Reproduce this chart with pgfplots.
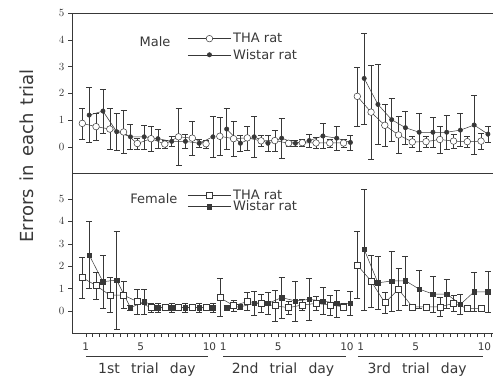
\documentclass[border=0pt]{standalone}
\usepackage{pgfplots}
\pgfplotsset{compat=1.18}
\usepackage{pgfplotstable}
\usepackage{fontspec}
\setmainfont{DejaVu Sans}
\definecolor{ink}{gray}{0.22}

\pgfplotstableread{
x tha thae w we
1 0.88 0.58 1.19 1.03
2 0.76 0.50 1.34 0.82
3 0.67 0.77 0.57 0.70
4 0.56 0.80 0.38 0.48
5 0.13 0.20 0.38 0.45
6 0.31 0.45 0.31 0.35
7 0.11 0.15 0.21 0.20
8 0.38 1.05 0.21 0.25
9 0.33 0.63 0.14 0.15
10 0.12 0.15 0.38 0.77
10.5 nan 0 nan 0
11 0.40 0.72 0.67 0.77
12 0.31 0.65 0.14 0.30
13 0.34 0.45 0.38 0.77
14 0.23 0.20 0.14 0.30
15 0.24 0.40 0.33 0.75
16 0.14 0.12 0.14 0.12
17 0.16 0.12 0.24 0.25
18 0.15 0.20 0.41 0.47
19 0.15 0.15 0.33 0.45
20 0.15 0.15 0.17 0.28
20.5 nan 0 nan 0
21 1.89 1.10 2.56 1.70
22 1.30 1.75 1.59 1.50
23 0.81 0.80 1.02 0.80
24 0.45 0.68 0.72 0.60
25 0.19 0.20 0.55 0.70
26 0.20 0.20 0.55 0.57
27 0.28 0.50 0.55 0.65
28 0.22 0.25 0.63 0.62
29 0.20 0.20 0.82 1.10
30 0.22 0.30 0.48 0.30
}\maledata

\pgfplotstableread{
x tha thae w we
1 1.49 0.90 2.50 1.50
2 1.14 0.60 1.31 1.20
3 0.71 0.78 1.38 2.20
4 0.71 0.60 0.15 0.10
5 0.42 0.55 0.42 0.55
6 0.15 0.20 0.15 0.20
7 0.15 0.10 0.15 0.20
8 0.15 0.10 0.15 0.20
9 0.15 0.10 0.15 0.20
10 0.15 0.10 0.15 0.20
10.5 nan 0 nan 0
11 0.60 0.85 0.15 0.10
12 0.24 0.25 0.19 0.10
13 0.42 0.40 0.34 0.55
14 0.34 0.40 0.34 0.50
15 0.24 0.70 0.60 0.90
16 0.15 0.30 0.45 0.90
17 0.27 0.25 0.52 0.95
18 0.34 0.30 0.45 0.60
19 0.27 0.45 0.34 0.60
20 0.19 0.15 0.34 0.55
20.5 nan 0 nan 0
21 2.05 1.50 2.75 2.70
22 1.34 1.15 1.26 1.20
23 0.37 0.45 1.34 1.35
24 0.97 0.95 1.35 1.10
25 0.19 0.10 0.98 0.85
26 0.19 0.10 0.76 0.80
27 0.19 0.42 0.76 0.65
28 0.34 0.35 0.30 0.45
29 0.12 0.10 0.86 0.85
30 0.12 0.10 0.86 0.90
}\femaledata

\pgfplotsset{
  panel/.style={
    scale only axis, width=421pt, height=160pt,
    xmin=0, xmax=30.62,
    axis line style={ink, line width=0.6pt},
    tick style={ink, line width=0.5pt},
    tick align=outside,
    major tick length=4pt, minor tick length=4pt,
    ytick={0,1,2,3,4,5},
    yticklabel style={text=ink, font=\fontsize{10.5}{12}\selectfont},
    xticklabel style={text=ink, font=\fontsize{10.5}{12}\selectfont, yshift=-2pt},
    unbounded coords=jump,
    clip=false,
    legend cell align=left,
    legend image code/.code={\draw[mark repeat=2, mark phase=2, ##1] plot coordinates {(0pt,0pt) (21.5pt,0pt) (43pt,0pt)};},
  },
  ser/.style={ink, line width=0.5pt,
    error bars/y dir=both, error bars/y explicit,
    error bars/error bar style={ink, line width=0.5pt},
    error bars/error mark options={ink, rotate=90, mark size=3pt, line width=0.5pt}},
}

\begin{document}
\begin{tikzpicture}
\path[use as bounding box] (0,0) rectangle (494pt,377pt);

% Male
\begin{axis}[panel, at={(72pt,204pt)}, anchor=south west,
  ymin=-0.97, ymax=5,
  axis x line*=box, axis y line*=left,
  xtick=\empty,
  legend style={at={(axis cs:8.4,4.33)}, anchor=north west, draw=none, fill=none,
    font=\fontsize{13}{15}\selectfont, text=ink, inner sep=0pt, row sep=1pt},
]
\addplot+[ser, mark=*, mark size=3.3pt, mark options={solid, fill=white, draw=ink, line width=0.5pt}]
  table[x expr=\thisrow{x}-0.25, y=tha, y error=thae] {\maledata};
\addlegendentry{THA rat}
\addplot+[ser, mark=*, mark size=2.2pt, mark options={solid, fill=ink, draw=ink}]
  table[x expr=\thisrow{x}+0.25, y=w, y error=we] {\maledata};
\addlegendentry{Wistar rat}
\node[text=ink, font=\fontsize{13}{15}\selectfont] at (axis cs:6.04,3.92) {Male};
\end{axis}

% Female
\begin{axis}[panel, at={(72pt,44pt)}, anchor=south west,
  ymin=-0.98, ymax=6.16,
  axis x line*=bottom, axis y line*=left,
  xtick={1,5,10,11,15,20,21,25,30},
  xticklabels={1,5,10,1,5,10,1,5,10},
  minor xtick={1.5,2,...,30.5},
  legend style={at={(axis cs:8.4,5.52)}, anchor=north west, draw=none, fill=none,
    font=\fontsize{13}{15}\selectfont, text=ink, inner sep=0pt, row sep=-3.5pt},
]
\addplot+[ser, mark=square*, mark size=3pt, mark options={solid, fill=white, draw=ink, line width=0.5pt}]
  table[x expr=\thisrow{x}-0.25, y=tha, y error=thae] {\femaledata};
\addlegendentry{THA rat}
\addplot+[ser, mark=square*, mark size=2.2pt, mark options={solid, fill=ink, draw=ink}]
  table[x expr=\thisrow{x}+0.25, y=w, y error=we] {\femaledata};
\addlegendentry{Wistar rat}
\node[text=ink, font=\fontsize{13}{15}\selectfont] at (axis cs:5.96,5.0) {Female};
\draw[ink, line width=0.5pt] (axis cs:1,-2.02) -- (axis cs:9.9,-2.02);
\draw[ink, line width=0.5pt] (axis cs:11,-2.02) -- (axis cs:19.9,-2.02);
\draw[ink, line width=0.5pt] (axis cs:20.8,-2.02) -- (axis cs:29.9,-2.02);
\node[text=ink, font=\fontsize{14}{16}\selectfont] at (axis cs:5.45,-2.62) {1st\hspace{0.8em}trial\hspace{0.8em}day};
\node[text=ink, font=\fontsize{14}{16}\selectfont] at (axis cs:15.35,-2.62) {2nd\hspace{0.8em}trial\hspace{0.8em}day};
\node[text=ink, font=\fontsize{14}{16}\selectfont] at (axis cs:25.1,-2.62) {3rd\hspace{0.8em}trial\hspace{0.8em}day};
\end{axis}

\node[rotate=90, text=ink, font=\fontsize{18}{20}\selectfont] at (27pt,221pt) {Errors\hspace{0.45em}in\hspace{0.45em}each\hspace{0.45em}trial};
\end{tikzpicture}
\end{document}
